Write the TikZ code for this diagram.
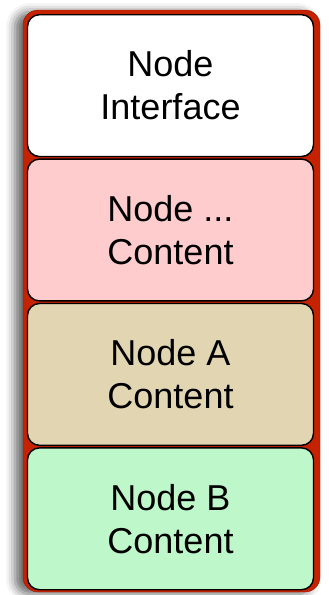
\documentclass[tikz,border=0pt]{standalone}
\usepackage{fontspec}
\setmainfont{Liberation Sans}
\usepackage{xcolor}
\usepackage{tikz}
\usetikzlibrary{positioning,shadows.blur}
\definecolor{marco}{HTML}{C42200}
\definecolor{rosa}{HTML}{FFCCCE}
\definecolor{arena}{HTML}{E2D6B2}
\definecolor{menta}{HTML}{BEF7C9}

\begin{document}
\begin{tikzpicture}[x=1pt, y=1pt,
  capa/.style={draw=black, line width=1.4pt, rounded corners=12pt, minimum width=286pt, minimum height=141.8pt, align=center, font=\fontsize{36}{43}\selectfont},
  contorno/.style={fill=marco, draw=marco!80!black, rounded corners=15pt, blur shadow={shadow xshift=-8pt, shadow yshift=-2pt, shadow blur radius=9pt, shadow opacity=60}}
]
\useasboundingbox (0,0) rectangle (329,-595);
\path[contorno] (23,-10) rectangle (320,-592);

\node[capa, fill=white, anchor=north] (iface) at (170.5,-14) {Node\\Interface};
\node[capa, fill=rosa, below=1.2pt of iface] (cont) {Node ...\\Content};
\node[capa, fill=arena, below=1.2pt of cont] (conta) {Node A\\Content};
\node[capa, fill=menta, below=1.2pt of conta] (contb) {Node B\\Content};
\end{tikzpicture}
\end{document}
